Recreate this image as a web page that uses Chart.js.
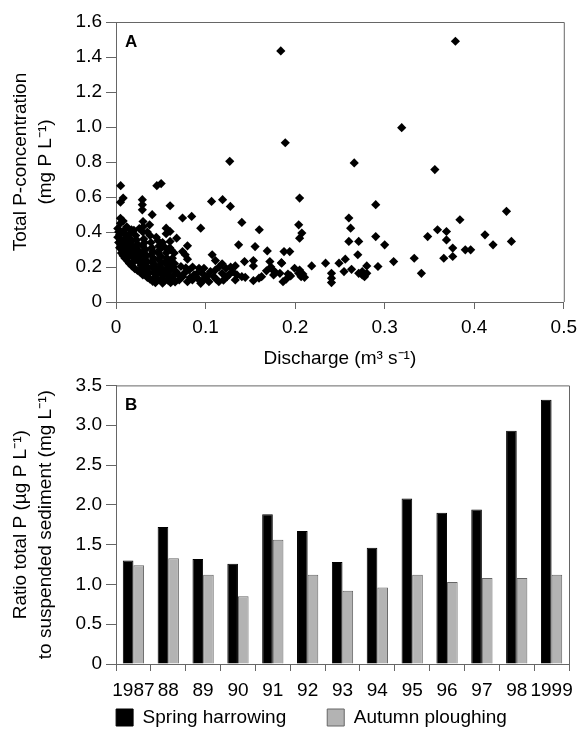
<!DOCTYPE html>
<html><head><meta charset="utf-8">
<script src="https://cdn.jsdelivr.net/npm/chart.js@4.4.1/dist/chart.umd.min.js"></script>
<style>
html,body{margin:0;padding:0;background:#fff;overflow:hidden;width:584px;height:731px;}
canvas{position:absolute;left:0;}
#c1{top:0;}
#c2{top:370px;}
</style></head><body>
<canvas id="c2" width="584" height="366"></canvas>
<canvas id="c1" width="584" height="370"></canvas>
<script>
// ---- Panel A: discharge (m3/s) vs total P concentration (mg P/L) ----
const discharge = [
  0.184,0.379,0.189,0.319,0.266,0.356,0.127,0.205,0.29,0.436,
  0.384,0.26,0.262,0.359,0.369,0.204,0.2075,0.205,0.412,0.348,
  0.29,0.26,0.271,0.369,0.4415,0.421,0.30,0.376,0.39,0.396,
  0.27,0.333,0.366,0.376,0.31,0.341,0.256,0.249,0.234,0.2185,
  0.28,0.2925,0.2546,0.263,0.271,0.275,0.2775,0.28,0.275,0.2406,
  0.2406,0.2406,0.1994,0.194,0.1876,0.185,0.1865,0.195,0.204,0.2067,
  0.2105,0.2086,0.205,
  0.1277,0.1405,0.16,0.1369,0.1553,0.1689,0.1435,0.1534,0.1332,0.1534,
  0.1718,0.1847,0.173,0.175,0.178,0.176,0.183,0.192,0.13,0.135,
  0.1405,0.1258,0.1332,0.1443,0.1534,0.1597,0.1626,0.168,0.19,
  0.1067,0.119,0.0604,0.0743,0.0845,0.0946,0.0604,0.0677,0.0604,0.0615,
  0.0798,0.0743,0.0773,0.0798,0.1074,0.111,0.1185,0.1228,0.128,0.0615,
  0.067,0.0725,0.0762,0.0817,0.0872,0.0927,0.0964,0.1,0.1055,0.1093,
  0.1148,0.1185,0.124,0.0706,0.0798,0.0853,0.0946,0.1038,0.0633,0.0743,
  0.0909,0.111,0.0982,0.115,0.0653,0.0855,0.09,0.102,0.083,0.112,
  0.12,0.069,0.078,0.097,
  0.0052,0.0456,0.0504,0.008,0.005,0.0294,0.0294,0.0294,0.0404,0.005,
  0.008,0.005,0.0302,0.0302,0.0173,0.0375,0.056,0.056,
  0.002,0.003,0.004,0.002,0.005,0.003,0.006,0.004,0.007,0.009,
  0.010,0.011,0.009,0.012,0.010,0.013,0.012,0.014,0.015,0.016,
  0.017,0.018,0.016,0.019,0.018,0.020,0.021,0.022,0.023,0.024,
  0.022,0.025,0.024,0.026,0.025,0.027,0.028,0.029,0.030,0.031,
  0.032,0.030,0.033,0.031,0.034,0.032,0.035,0.033,0.036,0.034,
  0.037,0.038,0.039,0.040,0.041,0.039,0.042,0.040,0.043,0.041,
  0.044,0.042,0.045,0.043,0.046,0.047,0.048,0.049,0.047,0.050,
  0.048,0.051,0.049,0.052,0.050,0.053,0.051,0.054,0.055,0.056,
  0.057,0.055,0.058,0.056,0.059,0.057,0.060,0.058,0.061,0.063,
  0.064,0.066,0.052,
  0.006,0.008,0.010,0.013,0.015,0.018,0.021,0.024,0.027,0.030,
  0.035,0.038,0.041,0.044,0.012,0.020,0.026,0.035,0.045,0.052,
  0.060,0.065,0.064,0.066,0.062
];
const concentration = [
  1.435,1.49,0.91,0.996,0.795,0.757,0.804,0.594,0.556,0.518,
  0.47,0.48,0.422,0.413,0.403,0.441,0.394,0.365,0.384,0.374,
  0.374,0.346,0.346,0.355,0.346,0.327,0.327,0.308,0.298,0.298,
  0.27,0.25,0.25,0.26,0.231,0.164,0.245,0.222,0.222,0.206,
  0.206,0.203,0.174,0.187,0.164,0.155,0.145,0.164,0.174,0.164,
  0.136,0.111,0.193,0.288,0.288,0.222,0.116,0.149,0.164,0.145,
  0.141,0.16,0.183,
  0.546,0.455,0.413,0.327,0.317,0.292,0.231,0.237,0.206,0.206,
  0.231,0.225,0.2,0.183,0.17,0.155,0.164,0.16,0.174,0.155,
  0.145,0.155,0.126,0.141,0.122,0.136,0.145,0.178,0.13,
  0.575,0.585,0.55,0.48,0.489,0.422,0.403,0.365,0.346,0.298,
  0.321,0.288,0.27,0.245,0.27,0.237,0.218,0.193,0.2,0.193,
  0.174,0.203,0.164,0.183,0.155,0.193,0.164,0.136,0.174,0.145,
  0.116,0.164,0.145,0.126,0.116,0.126,0.107,0.116,0.145,0.145,
  0.136,0.183,0.193,0.2,0.22,0.2,0.16,0.15,0.14,0.13,
  0.125,0.16,0.195,0.125,
  0.665,0.665,0.677,0.594,0.57,0.585,0.556,0.527,0.499,0.478,
  0.463,0.45,0.46,0.43,0.413,0.441,0.422,0.39,
  0.42,0.40,0.385,0.37,0.355,0.34,0.325,0.31,0.295,0.41,
  0.39,0.37,0.35,0.335,0.315,0.30,0.28,0.265,0.39,0.36,
  0.345,0.32,0.30,0.285,0.265,0.25,0.235,0.38,0.355,0.33,
  0.31,0.295,0.275,0.26,0.24,0.225,0.21,0.195,0.40,0.36,
  0.34,0.32,0.30,0.28,0.265,0.245,0.23,0.21,0.195,0.18,
  0.165,0.38,0.34,0.31,0.29,0.27,0.25,0.23,0.215,0.20,
  0.185,0.17,0.155,0.14,0.125,0.35,0.32,0.30,0.28,0.26,
  0.24,0.22,0.20,0.185,0.17,0.15,0.135,0.12,0.31,0.28,
  0.25,0.23,0.21,0.19,0.175,0.16,0.14,0.125,0.11,0.25,
  0.13,0.115,0.108,
  0.28,0.265,0.25,0.235,0.22,0.205,0.19,0.18,0.17,0.155,
  0.14,0.13,0.118,0.11,0.43,0.41,0.42,0.40,0.37,0.34,
  0.31,0.28,0.2,0.16,0.23
];
const xTickLabelsA = ['0','0.1','0.2','0.3','0.4','0.5'];
const yTickLabelsA = ['0','0.2','0.4','0.6','0.8','1.0','1.2','1.4','1.6'];

// ---- Panel B: ratio total P to suspended sediment ----
const years = ['1987','88','89','90','91','92','93','94','95','96','97','98','1999'];
const springHarrowing = [1.30,1.72,1.32,1.26,1.88,1.67,1.28,1.46,2.08,1.90,1.94,2.93,3.32];
const autumnPloughing = [1.24,1.33,1.12,0.85,1.56,1.12,0.92,0.96,1.12,1.03,1.08,1.08,1.12];
const yTickLabelsB = ['0','0.5','1.0','1.5','2.0','2.5','3.0','3.5'];

const FONT = '"Liberation Sans", Arial, Helvetica, sans-serif';
const AX = '#666';

const framePlugin = {
  id: 'frame',
  afterDraw(chart, args, opts) {
    const {ctx, chartArea: a} = chart;
    ctx.save();
    ctx.strokeStyle = AX; ctx.lineWidth = 1;
    ctx.beginPath();
    ctx.moveTo(a.left, a.top + 0.5);
    ctx.lineTo(a.right + 0.5, a.top + 0.5);
    ctx.lineTo(a.right + 0.5, a.bottom);
    ctx.stroke();
    ctx.font = 'bold 17px ' + FONT;
    ctx.fillStyle = '#000';
    ctx.textBaseline = 'middle';
    ctx.fillText(opts.label, a.left + 9, a.top + 20);
    ctx.restore();
  }
};

// moves the top of the legend box up (its padding is used for the wide gap between the two items)
const legendShift = {
  id: 'legendShift',
  afterLayout(chart, args, opts) {
    const L = chart.legend;
    if (L) { L.top -= opts.dy; }
  }
};

Chart.defaults.font.family = FONT;
Chart.defaults.color = '#000';

new Chart(document.getElementById('c1'), {
  type: 'scatter',
  data: {
    datasets: [{
      data: discharge.map((x, i) => ({x: x, y: concentration[i]})),
      pointStyle: 'rectRot',
      pointRadius: 4.6,
      pointHoverRadius: 4.6,
      backgroundColor: '#000',
      borderColor: '#000',
      borderWidth: 0,
      clip: false
    }]
  },
  options: {
    responsive: false, animation: false, devicePixelRatio: 1, events: [],
    layout: {padding: {top: 22, right: 15, left: 0, bottom: 0}},
    plugins: {legend: {display: false}, tooltip: {enabled: false}, frame: {label: 'A'}},
    scales: {
      x: {
        type: 'linear', min: 0, max: 0.5,
        ticks: {stepSize: 0.1, callback: (v, i) => xTickLabelsA[i], font: {size: 19}, padding: 7, maxRotation: 0},
        grid: {display: true, drawOnChartArea: false, drawTicks: true, tickLength: 7, color: AX},
        border: {display: true, color: AX},
        title: {display: true, text: 'Discharge (m³ s⁻¹)', font: {size: 19, lineHeight: 1.2}, padding: {top: 0, bottom: 0}},
        afterFit(s) { s.height = 68; }
      },
      y: {
        min: 0, max: 1.6,
        ticks: {stepSize: 0.2, callback: (v, i) => yTickLabelsA[i], font: {size: 19}, padding: 4},
        grid: {display: true, drawOnChartArea: false, drawTicks: true, tickLength: 10, color: AX},
        border: {display: true, color: AX},
        title: {display: true, text: ['Total P-concentration', '(mg P L⁻¹)'], font: {size: 19, lineHeight: 1.316}, padding: {top: 8.5, bottom: 0}},
        afterFit(s) { s.width = 116; }
      }
    }
  },
  plugins: [framePlugin]
});

new Chart(document.getElementById('c2'), {
  type: 'bar',
  data: {
    labels: years,
    datasets: [
      {label: 'Spring harrowing', data: springHarrowing, backgroundColor: '#000', borderColor: '#000', borderWidth: 1,
       barPercentage: 1.0, categoryPercentage: 0.61},
      {label: 'Autumn ploughing', data: autumnPloughing, backgroundColor: '#b3b3b3', borderColor: '#666', borderWidth: 1,
       barPercentage: 1.0, categoryPercentage: 0.61}
    ]
  },
  options: {
    responsive: false, animation: false, devicePixelRatio: 1, events: [],
    layout: {padding: {top: 15, right: 15, left: 54, bottom: 0}},
    plugins: {
      tooltip: {enabled: false},
      frame: {label: 'B'},
      legendShift: {dy: 39},
      legend: {
        display: true, position: 'bottom', align: 'center', maxHeight: 30,
        labels: {boxWidth: 17, boxHeight: 17, padding: 41, font: {size: 19}, color: '#000'}
      }
    },
    scales: {
      x: {
        ticks: {autoSkip: false, maxRotation: 0, minRotation: 0, font: {size: 19}, padding: 8},
        grid: {display: true, offset: true, drawOnChartArea: false, drawTicks: true, tickLength: 7, color: AX},
        border: {display: true, color: AX},
        afterFit(s) { s.height = 42; }
      },
      y: {
        min: 0, max: 3.5,
        ticks: {stepSize: 0.5, callback: (v, i) => yTickLabelsB[i], font: {size: 19}, padding: 4},
        grid: {display: true, drawOnChartArea: false, drawTicks: true, tickLength: 10, color: AX},
        border: {display: true, color: AX},
        title: {display: true, text: ['Ratio total P (µg P L⁻¹)', 'to suspended sediment (mg L⁻¹)'], font: {size: 19, lineHeight: 1.316}, padding: {top: -45.5, bottom: 0}},
        afterFit(s) { s.width = 62; }
      }
    }
  },
  plugins: [framePlugin, legendShift]
});
</script>
</body></html>
